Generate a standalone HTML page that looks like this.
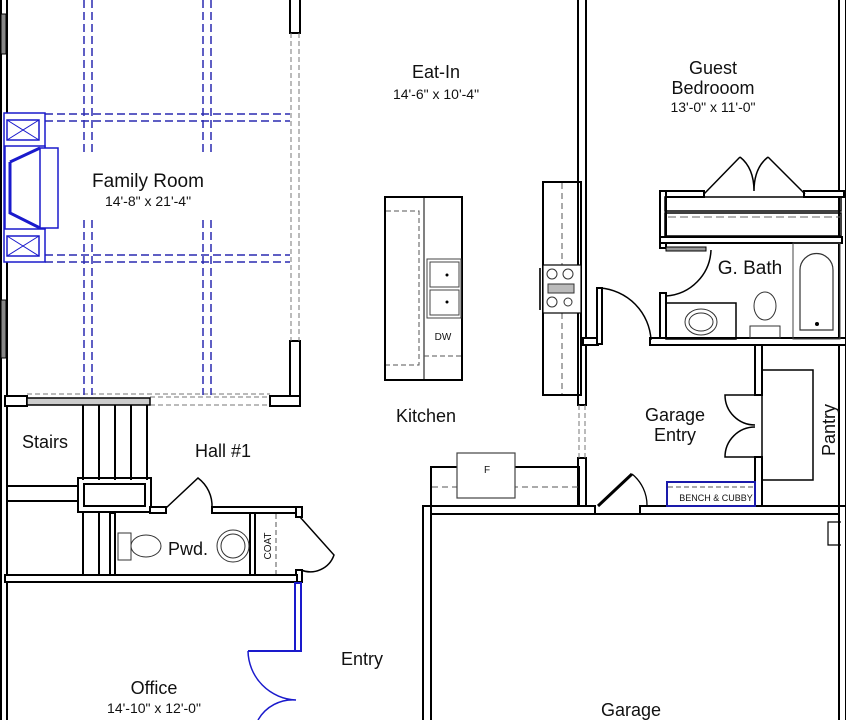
<!DOCTYPE html>
<html><head><meta charset="utf-8"><style>
html,body{margin:0;padding:0;background:#fff;width:846px;height:720px;overflow:hidden}
text{font-family:"Liberation Sans",Arial,sans-serif;fill:#111}
</style></head><body>
<svg width="846" height="720" viewBox="0 0 846 720" xmlns="http://www.w3.org/2000/svg">
<g fill="#fff" stroke="#000" stroke-width="2">
<rect x="1" y="-2" width="6" height="724"/>
<rect x="1" y="14" width="5" height="40" fill="#888" stroke="#000" stroke-width="1"/>
<rect x="1" y="300" width="5" height="58" fill="#888" stroke="#000" stroke-width="1"/>
<rect x="290" y="-2" width="10" height="35"/>
<rect x="290" y="341" width="10" height="65"/>
<rect x="5" y="396" width="22" height="10"/>
<rect x="270" y="396" width="30" height="10"/>
<rect x="578" y="-2" width="8" height="407"/>
<rect x="578" y="458" width="8" height="49"/>
<rect x="839" y="-2" width="7" height="510"/>
<rect x="660" y="191" width="44" height="6"/>
<rect x="804" y="191" width="40" height="6"/>
<rect x="660" y="191" width="6" height="57"/>
<rect x="665" y="197" width="176" height="14" fill="none" stroke-width="1.5"/>
<rect x="665" y="213" width="176" height="23" fill="none" stroke-width="1.5"/>
<rect x="660" y="237" width="182" height="6"/>
<rect x="660" y="293" width="6" height="50"/>
<rect x="666" y="247" width="40" height="4" fill="#999" stroke-width="1"/>
<rect x="650" y="338" width="196" height="7"/>
<rect x="583" y="338" width="15" height="7"/>
<rect x="597" y="288" width="5" height="56"/>
<rect x="755" y="345" width="7" height="50"/>
<rect x="755" y="457" width="7" height="50"/>
<rect x="762" y="370" width="51" height="110" fill="none" stroke-width="1.5"/>
<rect x="423" y="506" width="172" height="8"/>
<rect x="640" y="506" width="206" height="8"/>
<rect x="423" y="506" width="8" height="220"/>
<rect x="839" y="506" width="7" height="220"/>
</g>
<line x1="595" y1="514" x2="640" y2="514" stroke="#000" stroke-width="2"/>
<path d="M598 506 L632 474" stroke="#000" stroke-width="3" fill="none"/>
<path d="M632 474 A40 40 0 0 1 647 506" stroke="#000" stroke-width="1.3" fill="none"/>
<path d="M841 522 H828 V545 H841" fill="none" stroke="#000" stroke-width="1.2"/>
<rect x="667" y="482" width="88" height="24" fill="none" stroke="#1a1aaa" stroke-width="2"/>
<line x1="668" y1="487" x2="754" y2="487" stroke="#555" stroke-dasharray="5,3"/>
<text x="716" y="501" font-size="9" text-anchor="middle">BENCH &amp; CUBBY</text>
<line x1="668" y1="217" x2="840" y2="217" stroke="#666" stroke-dasharray="8,4"/>
<g stroke="#000" fill="none" stroke-width="1.5">
<path d="M704 194 L740 157"/>
<path d="M805 194 L768 157"/>
<path d="M740 157 Q754 168 754 191 Q754 168 768 157"/>
<path d="M666 296 A48 48 0 0 0 711 250"/>
<path d="M600 288 A55 55 0 0 1 651 340"/>
<path d="M755 395 H725 A30 30 0 0 0 755 425"/>
<path d="M755 457 H725 A30 30 0 0 1 755 427"/>
</g>
<rect x="793" y="243" width="47" height="96" fill="none" stroke="#444" stroke-width="1"/>
<path d="M800 330 V270 A16 16 0 0 1 833 270 V330 Z" fill="none" stroke="#333" stroke-width="1.2"/>
<circle cx="817" cy="324" r="2" fill="#000"/>
<rect x="666" y="303" width="70" height="36" fill="none" stroke="#000" stroke-width="1.5"/>
<ellipse cx="701" cy="322" rx="16" ry="13" fill="none" stroke="#333"/>
<ellipse cx="701" cy="322" rx="12" ry="9" fill="none" stroke="#333"/>
<rect x="750" y="326" width="30" height="12" fill="none" stroke="#333"/>
<ellipse cx="765" cy="306" rx="11" ry="14" fill="none" stroke="#333"/>
<rect x="385" y="197" width="77" height="183" fill="none" stroke="#000" stroke-width="2"/>
<line x1="424" y1="197" x2="424" y2="380" stroke="#000" stroke-width="1"/>
<path d="M386 211 H419 V365 H386" fill="none" stroke="#555" stroke-dasharray="5,3"/>
<line x1="424" y1="356" x2="461" y2="356" stroke="#555" stroke-dasharray="5,3"/>
<rect x="427" y="259" width="34" height="59" fill="none" stroke="#444"/>
<rect x="430" y="262" width="29" height="25" fill="none" stroke="#444"/>
<rect x="430" y="290" width="29" height="25" fill="none" stroke="#444"/>
<circle cx="447" cy="275" r="1.5" fill="#000"/><circle cx="447" cy="302" r="1.5" fill="#000"/>
<text x="443" y="340" font-size="10" text-anchor="middle">DW</text>
<rect x="543" y="182" width="38" height="213" fill="none" stroke="#000" stroke-width="2"/>
<line x1="562" y1="183" x2="562" y2="394" stroke="#555" stroke-dasharray="6,4"/>
<rect x="543" y="265" width="38" height="48" fill="#fff" stroke="#000" stroke-width="1.2"/>
<circle cx="552" cy="274" r="5" fill="none" stroke="#333"/><circle cx="568" cy="274" r="5" fill="none" stroke="#333"/>
<circle cx="552" cy="302" r="5" fill="none" stroke="#333"/><circle cx="568" cy="302" r="4" fill="none" stroke="#333"/>
<rect x="548" y="284" width="26" height="9" fill="#bbb" stroke="#333"/>
<line x1="540" y1="268" x2="540" y2="310" stroke="#333" stroke-width="2"/>
<rect x="431" y="467" width="148" height="39" fill="none" stroke="#000" stroke-width="2"/>
<line x1="432" y1="487" x2="578" y2="487" stroke="#555" stroke-dasharray="6,4"/>
<rect x="457" y="453" width="58" height="45" fill="#fff" stroke="#444" stroke-width="1.2"/>
<text x="487" y="473" font-size="10" text-anchor="middle">F</text>
<g stroke="#777" stroke-dasharray="5,3" fill="none" stroke-width="1">
<line x1="291" y1="33" x2="291" y2="341"/><line x1="299" y1="33" x2="299" y2="341"/>
<line x1="150" y1="397" x2="270" y2="397"/><line x1="150" y1="405" x2="270" y2="405"/>
<line x1="27" y1="394" x2="270" y2="394"/>
<line x1="579" y1="405" x2="579" y2="458"/><line x1="585" y1="405" x2="585" y2="458"/>
</g>
<rect x="27" y="398" width="123" height="7" fill="#ccc" stroke="#000" stroke-width="1.5"/>
<g stroke="#2a2ab0" stroke-dasharray="8,4" stroke-width="1.5" fill="none">
<line x1="84" y1="0" x2="84" y2="155"/><line x1="92" y1="0" x2="92" y2="155"/>
<line x1="203" y1="0" x2="203" y2="155"/><line x1="211" y1="0" x2="211" y2="155"/>
<line x1="84" y1="220" x2="84" y2="395"/><line x1="92" y1="220" x2="92" y2="395"/>
<line x1="203" y1="220" x2="203" y2="395"/><line x1="211" y1="220" x2="211" y2="395"/>
<line x1="45" y1="114" x2="290" y2="114"/><line x1="45" y1="121" x2="290" y2="121"/>
<line x1="45" y1="255" x2="290" y2="255"/><line x1="45" y1="262" x2="290" y2="262"/>
</g>
<g stroke="#1a1acc" fill="#fff" stroke-width="1.5">
<rect x="4" y="113" width="41" height="149"/>
<rect x="7" y="120" width="32" height="20"/>
<rect x="7" y="236" width="32" height="20"/>
<rect x="5" y="146" width="40" height="83"/>
<rect x="40" y="148" width="18" height="80"/>
<path d="M10 162 L40 148 M10 162 V213 L40 228" stroke-width="3" fill="none"/>
<path d="M7 120 L39 140 M39 120 L7 140 M7 236 L39 256 M39 236 L7 256" stroke-width="1"/>
</g>
<g stroke="#000" stroke-width="2" fill="none">
<line x1="83" y1="405" x2="83" y2="480"/><line x1="99" y1="405" x2="99" y2="480"/>
<line x1="115" y1="405" x2="115" y2="480"/><line x1="131" y1="405" x2="131" y2="480"/>
<line x1="147" y1="405" x2="147" y2="480"/>
<line x1="7" y1="486" x2="78" y2="486"/><line x1="7" y1="501" x2="78" y2="501"/>
<rect x="78" y="478" width="73" height="34"/>
<rect x="84" y="484" width="61" height="22"/>
<line x1="83" y1="512" x2="83" y2="578"/><line x1="99" y1="512" x2="99" y2="578"/>
<line x1="110" y1="512" x2="110" y2="578"/>
<line x1="7" y1="578" x2="110" y2="578"/>
</g>
<g fill="#fff" stroke="#000" stroke-width="2">
<rect x="150" y="507" width="16" height="6"/>
<rect x="212" y="507" width="90" height="6"/>
<rect x="296" y="507" width="6" height="10"/>
<rect x="296" y="570" width="6" height="12"/>
<rect x="5" y="575" width="292" height="7"/>
<rect x="250" y="513" width="5" height="62"/>
<rect x="110" y="513" width="5" height="62"/>
</g>
<path d="M166 508 L198 478 A35 35 0 0 1 212 508" fill="none" stroke="#000" stroke-width="1.5"/>
<path d="M300 517 L334 555 A25 25 0 0 1 301 570" fill="none" stroke="#000" stroke-width="1.5"/>
<line x1="276" y1="514" x2="276" y2="574" stroke="#555" stroke-dasharray="5,3"/>
<rect x="118" y="533" width="13" height="27" fill="none" stroke="#333"/>
<ellipse cx="146" cy="546" rx="15" ry="11" fill="none" stroke="#333"/>
<circle cx="233" cy="546" r="16" fill="none" stroke="#333"/>
<circle cx="233" cy="546" r="12" fill="none" stroke="#333"/>
<rect x="295" y="583" width="6" height="68" fill="#fff" stroke="#1a1acc" stroke-width="2"/>
<line x1="248" y1="651" x2="296" y2="651" stroke="#1a1acc" stroke-width="2"/>
<path d="M248 651 A50 50 0 0 0 296 700 A40 40 0 0 0 258 720" fill="none" stroke="#1a1acc" stroke-width="1.5"/>
<text x="436" y="78" font-size="18" text-anchor="middle">Eat-In</text>
<text x="436" y="99" font-size="14" text-anchor="middle">14'-6" x 10'-4"</text>
<text x="713" y="74" font-size="18" text-anchor="middle">Guest</text>
<text x="713" y="94" font-size="18" text-anchor="middle">Bedrooom</text>
<text x="713" y="112" font-size="14" text-anchor="middle">13'-0" x 11'-0"</text>
<text x="148" y="187" font-size="19" text-anchor="middle">Family Room</text>
<text x="148" y="206" font-size="14" text-anchor="middle">14'-8" x 21'-4"</text>
<text x="750" y="274" font-size="19" text-anchor="middle">G. Bath</text>
<text x="426" y="422" font-size="18" text-anchor="middle">Kitchen</text>
<text x="675" y="421" font-size="18" text-anchor="middle">Garage</text>
<text x="675" y="441" font-size="18" text-anchor="middle">Entry</text>
<text transform="translate(835,430) rotate(-90)" font-size="18" text-anchor="middle">Pantry</text>
<text x="45" y="448" font-size="18" text-anchor="middle">Stairs</text>
<text x="223" y="457" font-size="18" text-anchor="middle">Hall #1</text>
<text x="188" y="555" font-size="18" text-anchor="middle">Pwd.</text>
<text transform="translate(271,546) rotate(-90)" font-size="10" text-anchor="middle">COAT</text>
<text x="362" y="665" font-size="18" text-anchor="middle">Entry</text>
<text x="154" y="694" font-size="18" text-anchor="middle">Office</text>
<text x="154" y="713" font-size="14" text-anchor="middle">14'-10" x 12'-0"</text>
<text x="631" y="716" font-size="18" text-anchor="middle">Garage</text>
</svg>
</body></html>
